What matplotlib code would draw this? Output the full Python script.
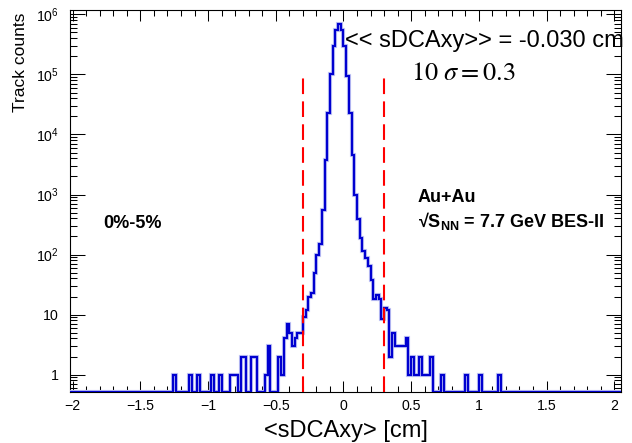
import numpy as np
import matplotlib.pyplot as plt
from matplotlib.ticker import MultipleLocator, LogLocator, FuncFormatter, NullFormatter

plt.rcParams['font.family'] = ['Liberation Sans', 'DejaVu Sans']
plt.rcParams['mathtext.fontset'] = 'custom'
plt.rcParams['mathtext.rm'] = 'Liberation Sans'
plt.rcParams['mathtext.it'] = 'Liberation Sans:italic'
plt.rcParams['mathtext.bf'] = 'Liberation Sans:bold'
plt.rcParams['mathtext.sf'] = 'Liberation Sans'

# binning of the sDCAxy histogram [cm]
x_lo, x_hi, bin_w = -2.02, 2.06, 0.02

# non-empty bins: bin centre [cm] and number of tracks
bin_centres = [-1.25, -1.13, -1.07, -0.97, -0.91, -0.83, -0.81, -0.79,
               -0.75, -0.73, -0.67, -0.65, -0.57, -0.55,
               -0.47, -0.45, -0.43, -0.41, -0.39, -0.37, -0.35, -0.33, -0.31,
               -0.29, -0.27, -0.25, -0.23, -0.21, -0.19, -0.17, -0.15,
               -0.13, -0.11, -0.09, -0.07, -0.05, -0.03, -0.01,
               0.01, 0.03, 0.05, 0.07, 0.09, 0.11, 0.13, 0.15, 0.17,
               0.19, 0.21, 0.23, 0.25, 0.27, 0.29, 0.31, 0.33, 0.35, 0.37,
               0.39, 0.41, 0.43, 0.45, 0.47, 0.49, 0.51, 0.53, 0.55, 0.57,
               0.59, 0.61, 0.63, 0.65, 0.73, 0.91, 1.01, 1.15]
track_counts = [1, 1, 1, 1, 1, 1, 1, 1,
                2, 2, 2, 2, 1, 3,
                2, 1, 4, 7, 5, 3, 4, 5, 5,
                9, 12, 20, 23, 50, 100, 152, 550,
                3800, 23000, 100000, 296000, 550000, 680000, 550000,
                296000, 94000, 23000, 4470, 1000, 390, 190, 116, 86,
                64, 37, 18, 21, 18, 8.5, 13, 12, 2, 5,
                3, 3, 3, 3, 4, 1, 2, 1, 1, 2,
                1, 1, 1, 2, 1, 1, 1, 1]

# DCA cut window
cut_lo, cut_hi = -0.3, 0.3
y_min, y_max = 0.52, 1.17e6

edges = np.round(np.arange(x_lo, x_hi + bin_w / 2, bin_w), 4)
counts = np.zeros(len(edges) - 1)
idx = np.round((np.array(bin_centres) - x_lo) / bin_w - 0.5).astype(int)
counts[idx] = track_counts

fig = plt.figure(figsize=(6.32, 4.43), dpi=100)
ax = fig.add_axes([70 / 632, 51.3 / 443, 551 / 632, 381.4 / 443])

# empty bins sit on the lower frame, like ROOT draws them
shown = np.maximum(counts, y_min)
ax.stairs(shown, edges, color='#c4c8f4', lw=3.0, zorder=3)
ax.stairs(shown, edges, color='#0000d0', lw=1.6, zorder=3.1)

ax.vlines([cut_lo, cut_hi], y_min, 1e5, colors='#ff0000', lw=1.5,
          linestyles=(0, (7.5, 3.5)), zorder=4)

ax.set_yscale('log')
ax.set_xlim(-2.02, 2.05)
ax.set_ylim(y_min, y_max)

ax.xaxis.set_major_locator(MultipleLocator(0.5))
ax.xaxis.set_minor_locator(MultipleLocator(0.1))
ax.xaxis.set_major_formatter(FuncFormatter(lambda v, pos: f'{v:g}'.replace('-', '\u2212')))
ax.yaxis.set_major_locator(LogLocator(base=10, numticks=10))
ax.yaxis.set_minor_locator(LogLocator(base=10, subs=np.arange(2, 10), numticks=10))
ax.yaxis.set_minor_formatter(NullFormatter())


def dec_label(v, pos):
    e = int(round(np.log10(v)))
    if e < 0:
        return ''
    if e == 0:
        return '1'
    if e == 1:
        return '10'
    return rf'$10^{{{e}}}$'


ax.yaxis.set_major_formatter(FuncFormatter(dec_label))

ax.tick_params(axis='both', which='both', direction='in', top=True, right=True,
               width=0.75, labelsize=10.2)
ax.tick_params(axis='x', which='major', length=8, pad=5)
ax.tick_params(axis='x', which='minor', length=4)
ax.tick_params(axis='y', which='major', length=11, pad=8)
ax.tick_params(axis='y', which='minor', length=5)
for s in ax.spines.values():
    s.set_linewidth(0.8)

ax.set_xlabel('<sDCAxy> [cm]', fontsize=17, labelpad=5)
fig.text(21 / 632, 1 - 13 / 443, 'Track counts', rotation=90, fontsize=12.5,
         ha='center', va='top')

fig.text(345 / 632, 1 - 47 / 443, '<< sDCAxy>> = -0.030 cm', fontsize=17,
         ha='left', va='baseline')
fig.text(411 / 632, 1 - 80 / 443, r'$10\ \sigma{=}0.3$', fontsize=19,
         math_fontfamily='stix', ha='left', va='baseline')

fig.text(103 / 632, 1 - 228 / 443, '0%-5%', fontsize=13, fontweight='bold',
         ha='left', va='baseline')
fig.text(418 / 632, 1 - 202 / 443, 'Au+Au', fontsize=13, fontweight='bold',
         ha='left', va='baseline')
fig.text(418 / 632, 1 - 227 / 443, '\u221a' + r'$\mathbf{S}_{\mathbf{NN}}$ = 7.7 GeV BES-II',
         fontsize=13, fontweight='bold', ha='left', va='baseline')

fig.savefig('out.png', dpi=100)
